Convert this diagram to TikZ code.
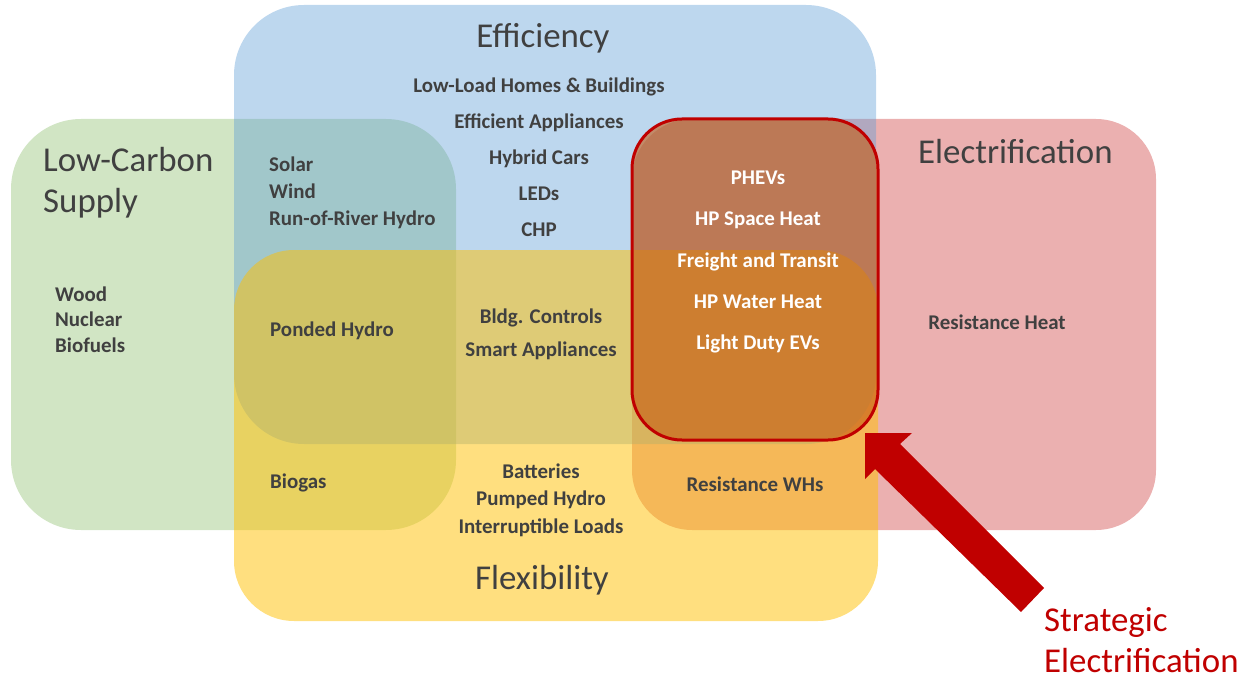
\documentclass[tikz,border=0pt]{standalone}
\usepackage{fontspec}
\setmainfont{Carlito}
\definecolor{txt}{HTML}{404040}
\definecolor{cblue}{HTML}{5B9BD5}
\definecolor{cgreen}{HTML}{70AD47}
\definecolor{cred}{HTML}{C00000}
\definecolor{cyel}{HTML}{FFC000}
\definecolor{corange}{HTML}{C55A11}
\begin{document}
\begin{tikzpicture}[x=1bp,y=-1bp,
  item/.style={font=\fontsize{21}{27}\selectfont\bfseries, text=txt, inner sep=0pt},
  title/.style={font=\fontsize{35}{41}\selectfont, text=txt, inner sep=0pt},
  setxt/.style={font=\fontsize{21}{41.25}\selectfont\bfseries, text=white, inner sep=0pt, align=center}]
\useasboundingbox (0,0) rectangle (1248,681);
% sets
\fill[cgreen, fill opacity=0.32, rounded corners=70bp] (11,119) rectangle (456,530);
\fill[cred, fill opacity=0.31, rounded corners=60bp] (632,119) rectangle (1156,530);
\fill[cblue, fill opacity=0.4, rounded corners=70bp] (234,5) rectangle (876,444);
\fill[cyel, fill opacity=0.5, rounded corners=60bp] (234,250) rectangle (878,621);
% strategic electrification box
\node[draw=cred, line width=3bp, fill=corange, fill opacity=0.6, draw opacity=1,
      rounded corners=50bp, minimum width=246bp, minimum height=321bp, inner sep=0pt]
      (sebox) at (755,279.5) {};
% titles
\node[title] (teff) at (543,38.5) {Efficiency};
\node[title, anchor=west, align=left] (tlow) at (43,182.5) {Low-Carbon\\Supply};
\node[title, anchor=west] (telec) at (918,151.5) {Electrification};
\node[title] (tflex) at (542,580.5) {Flexibility};
% items
\node[item, align=center, font=\fontsize{21}{36}\selectfont\bfseries] (effl) at (539,157)
  {Low-Load Homes \& Buildings\\Efficient Appliances\\Hybrid Cars\\LEDs\\CHP};
\node[item, anchor=west, align=left] (ren) at (269,193) {Solar\\Wind\\Run-of-River Hydro};
\node[item, anchor=west, align=left, font=\fontsize{21}{25.5}\selectfont\bfseries] (lcs) at (55,319.5) {Wood\\Nuclear\\Biofuels};
\node[item, anchor=west] (pond) at (270,331) {Ponded Hydro};
\node[item, align=center, font=\fontsize{21}{33}\selectfont\bfseries] (bldg) at (541,334.5) {Bldg. Controls\\Smart Appliances};
\node[item, anchor=west] (biog) at (270,483) {Biogas};
\node[item, align=center, font=\fontsize{21}{27.5}\selectfont\bfseries] (batt) at (541,500) {Batteries\\Pumped Hydro\\Interruptible Loads};
\node[item] (rwh) at (755,484) {Resistance WHs};
\node[item] (rheat) at (997,322) {Resistance Heat};
\node[setxt] (selist) at (758,262) {PHEVs\\HP Space Heat\\Freight and Transit\\HP Water Heat\\Light Duty EVs};
% label and block arrow
\node[title, text=cred, anchor=west, align=left] (selabel) at (1044,640) {Strategic\\Electrification};
\coordinate (atip) at (865,433);
\coordinate (ab1) at (912,433);
\coordinate (aj1) at (900,444);
\coordinate (at1) at (1044,588);
\coordinate (at2) at (1021,612);
\coordinate (aj2) at (875,469);
\coordinate (ab2) at (865,479);
\fill[cred] (atip) -- (ab1) -- (aj1) -- (at1) -- (at2) -- (aj2) -- (ab2) -- cycle;
\end{tikzpicture}
\end{document}
